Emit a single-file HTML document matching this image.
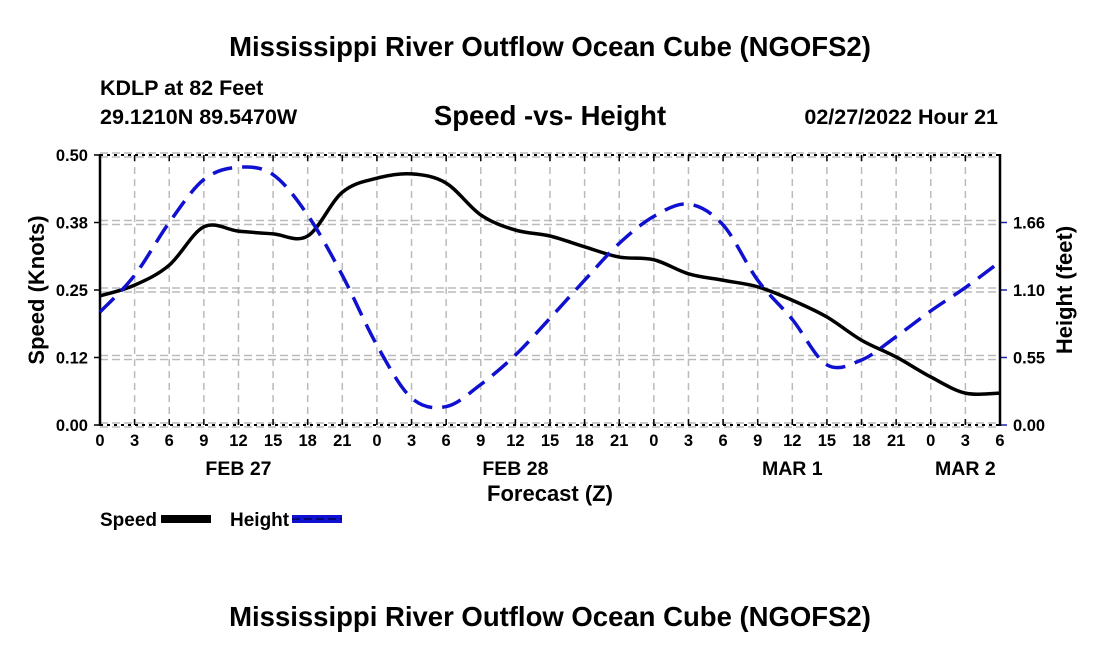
<!DOCTYPE html>
<html><head><meta charset="utf-8"><style>
html,body{margin:0;padding:0;background:#fff;width:1100px;height:650px;overflow:hidden}
svg text{font-family:"Liberation Sans",Arial,sans-serif;font-weight:bold;fill:#000}
</style></head><body>
<svg id="chart" width="1100" height="650" xmlns="http://www.w3.org/2000/svg">
<text x="550" y="56" font-size="27.5" text-anchor="middle">Mississippi River Outflow Ocean Cube (NGOFS2)</text>
<text x="100" y="95" font-size="21.5">KDLP at 82 Feet</text>
<text x="100" y="124" font-size="21.5">29.1210N  89.5470W</text>
<text x="550" y="125" font-size="27.5" text-anchor="middle">Speed -vs- Height</text>
<text x="998" y="124" font-size="21.5" text-anchor="end">02/27/2022 Hour 21</text>
<g id="grid"></g>
<g id="axes"></g>
<g id="series"></g>
<text transform="translate(44,290) rotate(-90)" font-size="22" text-anchor="middle">Speed (Knots)</text>
<text transform="translate(1072,290) rotate(-90)" font-size="22" text-anchor="middle">Height (feet)</text>
<text x="550" y="501" font-size="22" text-anchor="middle">Forecast (Z)</text>
<g>
<text x="100" y="526" font-size="19">Speed</text>
<rect x="161" y="515" width="50" height="8" fill="#000"/>
<text x="230" y="526" font-size="19">Height</text>
<rect x="292" y="515" width="50" height="8" fill="#1010d0"/>
<line x1="292" y1="519" x2="342" y2="519" stroke="#000060" stroke-width="1.5" stroke-dasharray="8 4"/>
</g>
<text x="550" y="626" font-size="27.5" text-anchor="middle">Mississippi River Outflow Ocean Cube (NGOFS2)</text>
</svg>
<script>
const hours=[0,3,6,9,12,15,18,21,24,27,30,33,36,39,42,45,48,51,54,57,60,63,66,69,72,75,78];
const speedKnots=[0.239,0.259,0.296,0.367,0.359,0.354,0.350,0.431,0.457,0.465,0.448,0.389,0.361,0.350,0.330,0.311,0.306,0.280,0.268,0.256,0.231,0.200,0.157,0.126,0.089,0.059,0.059];
const heightFeet=[0.92,1.22,1.65,2.0,2.10,2.04,1.71,1.22,0.65,0.22,0.15,0.33,0.57,0.87,1.18,1.48,1.70,1.80,1.63,1.18,0.86,0.49,0.53,0.72,0.93,1.12,1.33];
const leftTicks=[0,0.125,0.25,0.375,0.5];
const leftTickLabels=["0.00","0.12","0.25","0.38","0.50"];
const rightTicks=[0,0.55,1.1,1.65];
const rightTickLabels=["0.00","0.55","1.10","1.66"];
const xTickLabels=["0","3","6","9","12","15","18","21","0","3","6","9","12","15","18","21","0","3","6","9","12","15","18","21","0","3","6"];
const dayLabels=["FEB 27","FEB 28","MAR 1","MAR 2"];
const dayLabelHours=[12,36,60,75];

const L=100,R=1000,T=155,B=425;
const X=h=>L+(h-0)/78*(R-L);
const YL=v=>B-v/0.5*(B-T);
const YR=v=>B-v/2.2*(B-T);
const NS="http://www.w3.org/2000/svg";
function mk(tag,attrs,parent){const e=document.createElementNS(NS,tag);for(const k in attrs)e.setAttribute(k,attrs[k]);parent.appendChild(e);return e;}
const grid=document.getElementById('grid'),axes=document.getElementById('axes'),series=document.getElementById('series');

hours.forEach((h,i)=>{
  if(i>0&&i<hours.length-1){const g=mk('line',{x1:X(h),x2:X(h),y1:T,y2:B,stroke:'#bbb','stroke-width':1.5,'stroke-dasharray':'7 5'},grid);
  
  }
  const t=mk('line',{x1:X(h),x2:X(h),y1:B,y2:B-6,stroke:'#000','stroke-width':1.5},axes);
  
  
  const t2=mk('line',{x1:X(h),x2:X(h),y1:T,y2:T+6,stroke:'#000','stroke-width':1.5},axes);
  
  
  const lb=mk('text',{x:X(h),y:B+21,'font-size':16.5,'text-anchor':'middle'},axes);lb.textContent=xTickLabels[i];
  
  
});
dayLabels.forEach((d,i)=>{const t=mk('text',{x:X(dayLabelHours[i]),y:B+50,'font-size':19.5,'text-anchor':'middle'},axes);t.textContent=d;
  
  });

leftTicks.forEach((v,i)=>{
  const y=YL(v);
  [y-2,y+2].forEach(yy=>{const g=mk('line',{x1:L,x2:R,y1:yy,y2:yy,stroke:'#bbb','stroke-width':1.5,'stroke-dasharray':'8 4'},grid);
    
    });
  const t=mk('line',{x1:L-6,x2:L,y1:y,y2:y,stroke:'#000','stroke-width':1.5},axes);
  
  
  const lb=mk('text',{x:L-12,y:y+6,'font-size':16.5,'text-anchor':'end'},axes);lb.textContent=leftTickLabels[i];
  
  
});
rightTicks.forEach((v,i)=>{
  const y=YR(v);
  const t=mk('line',{x1:R,x2:R+7,y1:y,y2:y,stroke:'#2020b0','stroke-width':1.5},axes);
  
  
  const lb=mk('text',{x:R+13,y:y+6,'font-size':16.5},axes);lb.textContent=rightTickLabels[i];
  
  
});
[T,B].forEach(y=>{const l=mk('line',{x1:L,x2:R,y1:y,y2:y,stroke:'#000','stroke-width':2,'stroke-dasharray':'3 4'},axes);
  
  });
[L,R].forEach(x=>{const l=mk('line',{x1:x,x2:x,y1:T-1,y2:B+1,stroke:'#000','stroke-width':2.5},axes);
  
  });

function smooth(pts){let d=`M${pts[0][0]},${pts[0][1]}`;
  for(let i=0;i<pts.length-1;i++){const p0=pts[Math.max(0,i-1)],p1=pts[i],p2=pts[i+1],p3=pts[Math.min(pts.length-1,i+2)];
    d+=` C${p1[0]+(p2[0]-p0[0])/6},${p1[1]+(p2[1]-p0[1])/6} ${p2[0]-(p3[0]-p1[0])/6},${p2[1]-(p3[1]-p1[1])/6} ${p2[0]},${p2[1]}`;}
  return d;}
const sp=mk('path',{d:smooth(hours.map((h,i)=>[X(h),YL(speedKnots[i])])),fill:'none',stroke:'#000','stroke-width':3.5},series);


const hp=mk('path',{d:smooth(hours.map((h,i)=>[X(h),YR(heightFeet[i])])),fill:'none',stroke:'#1010d0','stroke-width':3.5,'stroke-dasharray':'20 10'},series);


</script>
</body></html>
